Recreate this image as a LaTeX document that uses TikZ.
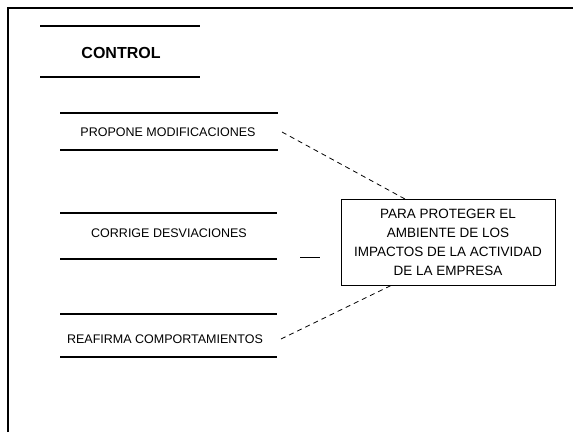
\documentclass[tikz,border=0pt]{standalone}
\usepackage{fontspec}
\setmainfont{Liberation Sans}
\begin{document}
\begin{tikzpicture}[x=1pt,y=-1pt,
  rule/.style={line width=1.3pt},
  frame/.style={line width=2pt},
  item/.style={inner sep=0pt,anchor=center,font=\fontsize{12.5}{14}\selectfont},
  conn/.style={line width=0.8pt,dash pattern=on 5pt off 4pt}]
\useasboundingbox (0,0) rectangle (573,432);
\fill[white] (0,0) rectangle (573,432);
% outer frame (top and left edges)
\draw[frame] (8,432) -- (8,8) -- (573,8);
% CONTROL
\draw[rule] (40,26) -- (200,26);
\draw[rule] (40,77) -- (200,77);
\node[inner sep=0pt,font=\bfseries\fontsize{16}{18}\selectfont] (ctrl) at (121,53) {CONTROL};
% PROPONE
\draw[rule] (60,113) -- (278,113);
\draw[rule] (60,150) -- (278,150);
\node[item] (prop) at (168,132) {PROPONE MODIFICACIONES};
% CORRIGE
\draw[rule] (60,213) -- (277,213);
\draw[rule] (60,259) -- (277,259);
\node[item] (corr) at (169,233) {CORRIGE DESVIACIONES};
% REAFIRMA
\draw[rule] (60,314) -- (277,314);
\draw[rule] (60,357) -- (277,357);
\node[item] (reaf) at (165,339) {REAFIRMA COMPORTAMIENTOS};
% box
\node[draw,line width=1pt,minimum width=214pt,minimum height=86pt,inner sep=0pt,
  align=center,font=\fontsize{13.5}{19}\selectfont] (box) at (448,242)
  {PARA PROTEGER EL\\AMBIENTE DE LOS\\IMPACTOS DE LA ACTIVIDAD\\DE LA EMPRESA};
% connectors
\coordinate (btop) at (405,199);
\coordinate (bbot) at (392,285);
\coordinate (ptail) at (282,132);
\coordinate (rtail) at (281,339);
\draw[conn] (ptail) -- (btop);
\draw[conn] (rtail) -- (bbot);
\coordinate (c1) at (300,257);
\coordinate (c2) at (320,257);
\draw[line width=0.9pt] (c1) -- (c2);
\end{tikzpicture}
\end{document}
